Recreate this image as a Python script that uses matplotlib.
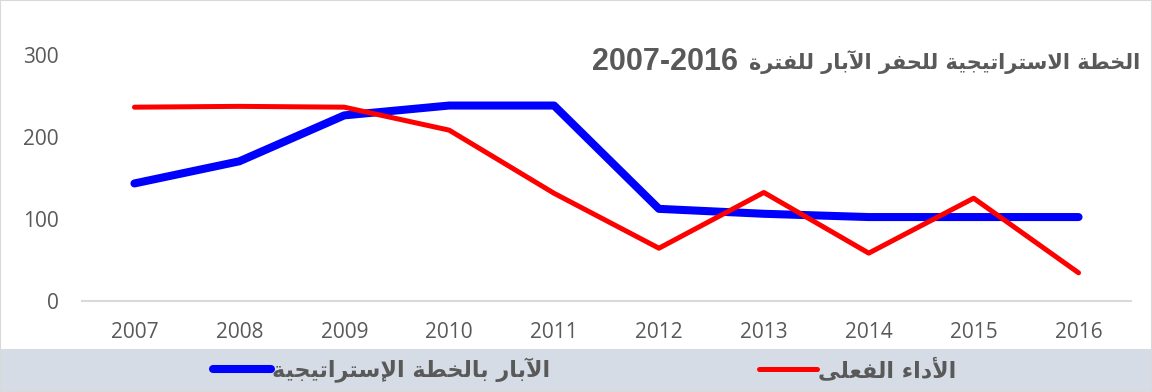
import re
import matplotlib
matplotlib.use('Agg')
import matplotlib.pyplot as plt
from matplotlib.patches import Rectangle

# presentation forms: (isolated, final, initial, medial)
FORMS = {
    '\u0621': ('\uFE80',),
    '\u0622': ('\uFE81', '\uFE82'),
    '\u0623': ('\uFE83', '\uFE84'),
    '\u0625': ('\uFE87', '\uFE88'),
    '\u0627': ('\uFE8D', '\uFE8E'),
    '\u0628': ('\uFE8F', '\uFE90', '\uFE91', '\uFE92'),
    '\u0629': ('\uFE93', '\uFE94'),
    '\u062A': ('\uFE95', '\uFE96', '\uFE97', '\uFE98'),
    '\u062C': ('\uFE9D', '\uFE9E', '\uFE9F', '\uFEA0'),
    '\u062D': ('\uFEA1', '\uFEA2', '\uFEA3', '\uFEA4'),
    '\u062E': ('\uFEA5', '\uFEA6', '\uFEA7', '\uFEA8'),
    '\u062F': ('\uFEA9', '\uFEAA'),
    '\u0631': ('\uFEAD', '\uFEAE'),
    '\u0633': ('\uFEB1', '\uFEB2', '\uFEB3', '\uFEB4'),
    '\u0637': ('\uFEC1', '\uFEC2', '\uFEC3', '\uFEC4'),
    '\u0639': ('\uFEC9', '\uFECA', '\uFECB', '\uFECC'),
    '\u0641': ('\uFED1', '\uFED2', '\uFED3', '\uFED4'),
    '\u0644': ('\uFEDD', '\uFEDE', '\uFEDF', '\uFEE0'),
    '\u0649': ('\uFEEF', '\uFEF0'),
    '\u064A': ('\uFEF1', '\uFEF2', '\uFEF3', '\uFEF4'),
}
LAM_ALEF = {
    '\u0622': ('\uFEF5', '\uFEF6'),
    '\u0623': ('\uFEF7', '\uFEF8'),
    '\u0625': ('\uFEF9', '\uFEFA'),
    '\u0627': ('\uFEFB', '\uFEFC'),
}


def shape(text):
    chars = []
    i = 0
    while i < len(text):
        c = text[i]
        if c == '\u0644' and i + 1 < len(text) and text[i + 1] in LAM_ALEF:
            chars.append(('LA', LAM_ALEF[text[i + 1]]))
            i += 2
        else:
            chars.append((c, FORMS.get(c)))
            i += 1
    out = []
    for k, (c, f) in enumerate(chars):
        if f is None:
            out.append(c)
            continue
        prev = chars[k - 1][1] if k > 0 else None
        nxt = chars[k + 1][1] if k + 1 < len(chars) else None
        join_prev = prev is not None and len(prev) == 4 and len(f) > 1
        join_next = len(f) == 4 and nxt is not None and len(nxt) > 1
        if join_prev and join_next:
            out.append(f[3])
        elif join_prev:
            out.append(f[1])
        elif join_next:
            out.append(f[2])
        else:
            out.append(f[0])
    return ''.join(out)


def rtl(text):
    # shape, then lay out right-to-left keeping number runs in order
    runs = re.findall(r'[0-9\-]+|[^0-9\-]+', shape(text))
    return ''.join(r if r[0].isdigit() else r[::-1] for r in reversed(runs))


years = ['2007', '2008', '2009', '2010', '2011', '2012', '2013', '2014', '2015', '2016']
plan = [143, 170, 226, 238, 238, 112, 106, 102, 102, 102]
actual = [236, 237, 236, 208, 131, 64, 132, 58, 125, 34]

title = 'الخطة الاستراتيجية للحفر الآبار للفترة'
period = '2007-2016'
plan_label = 'الآبار بالخطة الإستراتيجية'
actual_label = 'الأداء الفعلى'

txt = '#595959'
fig = plt.figure(figsize=(11.52, 3.92), dpi=100)
fig.patches.append(Rectangle((0, 0), 1, 43 / 392, transform=fig.transFigure,
                             facecolor='#D6DCE5', edgecolor='none', zorder=0))
fig.patches.append(Rectangle((0, 0), 1, 1, transform=fig.transFigure,
                             facecolor='none', edgecolor='#D9D9D9', lw=1.5, zorder=5))

ax = fig.add_axes([82 / 1152, 91.3 / 392, 1049 / 1152, 246 / 392])
x = range(len(years))
l1, = ax.plot(x, plan, color='#0000FF', lw=5.8, solid_capstyle='round',
              solid_joinstyle='round', label=rtl(plan_label))
l2, = ax.plot(x, actual, color='#FF0000', lw=3.6, solid_capstyle='round',
              solid_joinstyle='round', label=rtl(actual_label))

ax.set_xlim(-0.5, 9.5)
ax.set_ylim(0, 300)
ax.set_xticks(list(x))
ax.set_xticklabels(years)
ax.set_yticks([0, 100, 200, 300])
for s in ['top', 'right', 'left']:
    ax.spines[s].set_visible(False)
ax.spines['bottom'].set_color('#D9D9D9')
ax.spines['bottom'].set_linewidth(1.5)
ax.tick_params(axis='both', length=0, labelsize=15, labelcolor=txt)
ax.tick_params(axis='y', pad=16.5)
ax.tick_params(axis='x', pad=15)
for lab in ax.get_xticklabels() + ax.get_yticklabels():
    lab.set_family('Open Sans')

# title: arabic words, then the period placed just left of them
ttl = fig.text(1140 / 1152, (392 - 62) / 392, rtl(title), ha='right', va='center',
               fontsize=15, fontweight='bold', color=txt, family='DejaVu Sans')
ax.annotate(period, xy=(0, 0.5), xycoords=ttl, xytext=(-8, 0), textcoords='offset points',
            ha='right', va='center', fontsize=22, fontweight='bold', color=txt,
            family='Liberation Sans', annotation_clip=False)

leg = fig.legend(handles=[l1, l2], loc='center left', bbox_to_anchor=(213 / 1152, 22 / 392),
                 ncol=2, frameon=False, handlelength=2.6, handletextpad=0.05,
                 columnspacing=9.4, borderpad=0, borderaxespad=0,
                 prop={'family': 'DejaVu Sans', 'weight': 'bold', 'size': 16})
for t in leg.get_texts():
    t.set_color(txt)

fig.savefig('out.png', dpi=100)
